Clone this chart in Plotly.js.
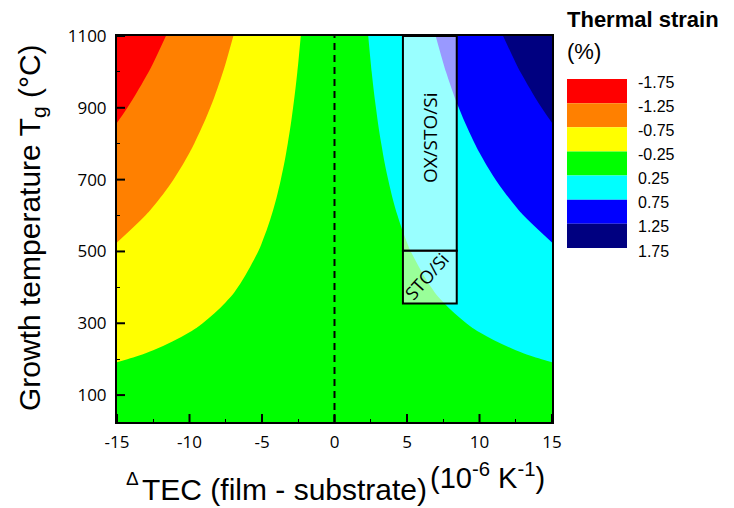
<!DOCTYPE html>
<html>
<head>
<meta charset="utf-8">
<script src="https://cdn.plot.ly/plotly-3.0.1.min.js"></script>
<style>html,body{margin:0;padding:0;background:#fff;}#chart{width:734px;height:508px;}</style>
</head>
<body>
<div id="chart"></div>
<script>
// ΔTEC (film - substrate), 10^-6 K^-1
var tec = [-15, -12.5, -10, -7.5, -5, -2.5, 0, 2.5, 5, 7.5, 10, 12.5, 15];
// Growth temperature Tg (°C)
var tg = [25, 100, 200, 300, 400, 500, 600, 700, 800, 900, 1000, 1100];
// Thermal strain (%) at each (tg row, tec column)
var strain = [
  [0, 0, 0, 0, 0, 0, 0, 0, 0, 0, 0, 0, 0],
  [-0.1125, -0.09375, -0.075, -0.05625, -0.0375, -0.01875, 0, 0.01875, 0.0375, 0.05625, 0.075, 0.09375, 0.1125],
  [-0.2625, -0.21875, -0.175, -0.13125, -0.0875, -0.04375, 0, 0.04375, 0.0875, 0.13125, 0.175, 0.21875, 0.2625],
  [-0.4125, -0.34375, -0.275, -0.20625, -0.1375, -0.06875, 0, 0.06875, 0.1375, 0.20625, 0.275, 0.34375, 0.4125],
  [-0.5625, -0.46875, -0.375, -0.28125, -0.1875, -0.09375, 0, 0.09375, 0.1875, 0.28125, 0.375, 0.46875, 0.5625],
  [-0.7125, -0.59375, -0.475, -0.35625, -0.2375, -0.11875, 0, 0.11875, 0.2375, 0.35625, 0.475, 0.59375, 0.7125],
  [-0.8625, -0.71875, -0.575, -0.43125, -0.2875, -0.14375, 0, 0.14375, 0.2875, 0.43125, 0.575, 0.71875, 0.8625],
  [-1.0125, -0.84375, -0.675, -0.50625, -0.3375, -0.16875, 0, 0.16875, 0.3375, 0.50625, 0.675, 0.84375, 1.0125],
  [-1.1625, -0.96875, -0.775, -0.58125, -0.3875, -0.19375, 0, 0.19375, 0.3875, 0.58125, 0.775, 0.96875, 1.1625],
  [-1.3125, -1.09375, -0.875, -0.65625, -0.4375, -0.21875, 0, 0.21875, 0.4375, 0.65625, 0.875, 1.09375, 1.3125],
  [-1.4625, -1.21875, -0.975, -0.73125, -0.4875, -0.24375, 0, 0.24375, 0.4875, 0.73125, 0.975, 1.21875, 1.4625],
  [-1.6125, -1.34375, -1.075, -0.80625, -0.5375, -0.26875, 0, 0.26875, 0.5375, 0.80625, 1.075, 1.34375, 1.6125]
];
// contour levels and band colours (legend)
var levels = [-1.75, -1.25, -0.75, -0.25, 0.25, 0.75, 1.25, 1.75];
var levelLabels = ['-1.75', '-1.25', '-0.75', '-0.25', '0.25', '0.75', '1.25', '1.75'];
var bandColors = ['#ff0000', '#ff8000', '#ffff00', '#00ff00', '#00ffff', '#0000ff', '#000080'];
// axis ticks
var xTicks = [-15, -10, -5, 0, 5, 10, 15];
var yTicks = [100, 300, 500, 700, 900, 1100];
// sample regions
var regionNames = ['OX/STO/Si', 'STO/Si'];
var regionX0 = [4.72, 4.72];
var regionX1 = [8.43, 8.43];
var regionY0 = [502, 355];
var regionY1 = [1100, 502];

// build stepped colorscale (fill colour evaluated at band centre)
var lvStep = levels[1] - levels[0];
var csMin = levels[0] - lvStep / 2, csMax = levels[levels.length - 1] + lvStep / 2;
function frac(v) { return (v - csMin) / (csMax - csMin); }
var colorscale = [];
for (var i = 0; i < bandColors.length; i++) {
  var lo = i === 0 ? 0 : frac(levels[i]);
  var hi = i === bandColors.length - 1 ? 1 : frac(levels[i + 1]);
  colorscale.push([lo, bandColors[i]]);
  colorscale.push([hi, bandColors[i]]);
}

var trace = {
  type: 'contour',
  x: tec, y: tg, z: strain,
  autocontour: false,
  contours: { start: levels[0], end: levels[levels.length - 1], size: lvStep, coloring: 'fill', showlines: false },
  line: { width: 0, smoothing: 1.2 },
  colorscale: colorscale,
  showscale: false,
  hoverinfo: 'skip'
};

var L = 117, R = 552, T = 36, B = 422;
function px2x(p) { return (p - L) / (R - L); }
function px2y(p) { return (B - p) / (B - T); }

var shapes = [];
var annotations = [];
// dashed zero line
shapes.push({ type: 'line', xref: 'x', yref: 'paper', x0: 0, x1: 0, y0: 0, y1: 1,
  line: { color: '#000', width: 2, dash: '7px,5px' }, layer: 'above' });
// inward major ticks (labels are pushed outward by transparent outside ticks)
var tickLen = 8;
xTicks.forEach(function (v) {
  shapes.push({ type: 'line', xref: 'x', yref: 'paper', x0: v, x1: v, y0: 0, y1: tickLen / (B - T),
    line: { color: '#000', width: 2 }, layer: 'above' });
});
yTicks.forEach(function (v) {
  shapes.push({ type: 'line', xref: 'paper', yref: 'y', x0: 0, x1: tickLen / (R - L), y0: v, y1: v,
    line: { color: '#000', width: 2 }, layer: 'above' });
});
// region boxes
for (var r = 0; r < regionNames.length; r++) {
  shapes.push({ type: 'rect', xref: 'x', yref: 'y', x0: regionX0[r], x1: regionX1[r], y0: regionY0[r], y1: regionY1[r],
    fillcolor: 'rgba(255,255,255,0.6)', line: { color: '#000', width: 2 }, layer: 'above' });
}
annotations.push({ xref: 'x', yref: 'y', x: (regionX0[0] + regionX1[0]) / 2, y: 818, text: regionNames[0],
  textangle: -90, showarrow: false, font: { family: 'Open Sans', size: 19, color: '#000' } });
annotations.push({ xref: 'x', yref: 'y', x: 6.35, y: 432, text: regionNames[1],
  textangle: -48, showarrow: false, font: { family: 'Open Sans', size: 18, color: '#000' } });

// legend
var lx0 = px2x(567), lx1 = px2x(627);
var ly0 = 79, bh = (248 - 79) / bandColors.length;
for (var k = 0; k < bandColors.length; k++) {
  shapes.push({ type: 'rect', xref: 'paper', yref: 'paper', x0: lx0, x1: lx1,
    y0: px2y(ly0 + bh * (k + 1)), y1: px2y(ly0 + bh * k), fillcolor: bandColors[k], line: { width: 0 } });
}
for (var m = 0; m < levelLabels.length; m++) {
  annotations.push({ xref: 'paper', yref: 'paper', x: px2x(636), y: px2y(ly0 + bh * m + 3), xanchor: 'left', yanchor: 'middle',
    text: levelLabels[m], showarrow: false, font: { family: 'Arial, Liberation Sans', size: 16, color: '#000' } });
}
annotations.push({ xref: 'paper', yref: 'paper', x: px2x(565), y: px2y(19), xanchor: 'left', yanchor: 'middle',
  text: '<b>Thermal strain</b>', showarrow: false, font: { family: 'Arial, Liberation Sans', size: 22, color: '#000' } });
annotations.push({ xref: 'paper', yref: 'paper', x: px2x(565), y: px2y(51), xanchor: 'left', yanchor: 'middle',
  text: '(%)', showarrow: false, font: { family: 'Arial, Liberation Sans', size: 22, color: '#000' } });

// axis titles
annotations.push({ xref: 'paper', yref: 'paper', x: px2x(124), y: px2y(478), xanchor: 'left', yanchor: 'middle',
  text: 'Δ', showarrow: false, font: { family: 'Arial, Liberation Sans', size: 19, color: '#000' } });
annotations.push({ xref: 'paper', yref: 'paper', x: px2x(140), y: px2y(489), xanchor: 'left', yanchor: 'middle',
  text: 'TEC (film - substrate)', showarrow: false, font: { family: 'Arial, Liberation Sans', size: 30, color: '#000' } });
annotations.push({ xref: 'paper', yref: 'paper', x: px2x(428), y: px2y(476), xanchor: 'left', yanchor: 'middle',
  text: '(10<sup>-6</sup> K<sup>-1</sup>)', showarrow: false, font: { family: 'Arial, Liberation Sans', size: 29, color: '#000' } });
annotations.push({ xref: 'paper', yref: 'paper', x: px2x(31), y: px2y(228), xanchor: 'center', yanchor: 'middle',
  textangle: -90, text: 'Growth temperature T<sub>g</sub> (°C)', showarrow: false,
  font: { family: 'Arial, Liberation Sans', size: 30, color: '#000' } });

var axisCommon = {
  showgrid: false, zeroline: false, showline: true, mirror: true, linecolor: '#000', linewidth: 2,
  ticks: 'outside', tickwidth: 1, tickcolor: 'rgba(0,0,0,0)',
  tickfont: { family: 'Open Sans', size: 17, color: '#000' }
};

var layout = {
  width: 734, height: 508,
  margin: { l: L, r: 734 - R, t: T, b: 508 - B },
  paper_bgcolor: '#fff', plot_bgcolor: '#fff',
  showlegend: false,
  xaxis: Object.assign({}, axisCommon, { range: [-15, 15], tickvals: xTicks, ticktext: xTicks.map(String),
    ticklen: 4,
    minor: { dtick: 2.5, ticks: 'inside', ticklen: 3, tickwidth: 1, tickcolor: '#000' } }),
  yaxis: Object.assign({}, axisCommon, { range: [25, 1100], tickvals: yTicks, ticktext: yTicks.map(String),
    ticklen: 5,
    minor: { dtick: 100, ticks: 'inside', ticklen: 3, tickwidth: 1, tickcolor: '#000' } }),
  shapes: shapes,
  annotations: annotations
};

Plotly.newPlot('chart', [trace], layout, { displayModeBar: false, staticPlot: true });
</script>
</body>
</html>
